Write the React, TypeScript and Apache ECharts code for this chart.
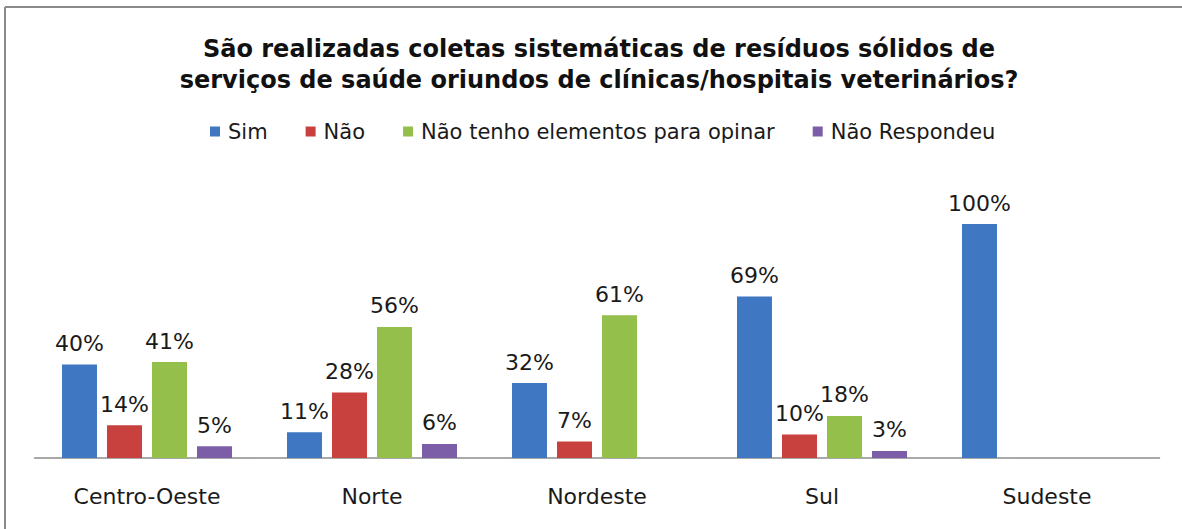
import React, { useEffect, useRef } from "react";
import * as echarts from "echarts";

const categories = ["Centro-Oeste", "Norte", "Nordeste", "Sul", "Sudeste"];
const seriesNames = ["Sim", "Não", "Não tenho elementos para opinar", "Não Respondeu"];
const simValues = [40, 11, 32, 69, 100];
const naoValues = [14, 28, 7, 10, null];
const semElementosValues = [41, 56, 61, 18, null];
const naoRespondeuValues = [5, 6, null, 3, null];
const colors = ["#4077C2", "#C9413F", "#93BF4A", "#7B5EA7"];
const titleLines = [
  "São realizadas coletas sistemáticas de resíduos sólidos de",
  "serviços de saúde oriundos de clínicas/hospitais veterinários?",
];

const FONT = "DejaVu Sans";

export default function App() {
  const ref = useRef<HTMLDivElement>(null);
  useEffect(() => {
    document.body.style.margin = "0";
    if (!ref.current) return;
    const chart = echarts.init(ref.current, null, { renderer: "svg" });
    const allValues = [simValues, naoValues, semElementosValues, naoRespondeuValues];
    chart.setOption({
      animation: false,
      backgroundColor: "#ffffff",
      textStyle: { fontFamily: FONT },
      title: {
        text: titleLines.join("\n"),
        left: 594,
        textAlign: "center",
        top: 28,
        textStyle: {
          fontFamily: FONT,
          fontSize: 24,
          fontWeight: "bold",
          color: "#111111",
          lineHeight: 31,
        },
      },
      legend: {
        left: 205,
        top: 116,
        itemWidth: 10,
        itemHeight: 10,
        itemGap: 38,
        icon: "rect",
        textStyle: {
          fontFamily: FONT,
          fontSize: 21,
          color: "#1a1a1a",
          padding: [0, 0, 0, 3],
        },
        data: seriesNames,
      },
      grid: { left: 34.5, right: 22.5, top: 224, bottom: 71 },
      xAxis: {
        type: "category",
        data: categories,
        axisLine: { lineStyle: { color: "#8c8c8c", width: 1.5 } },
        axisTick: { show: false },
        axisLabel: {
          fontFamily: FONT,
          fontSize: 22,
          color: "#1a1a1a",
          margin: 27,
        },
      },
      yAxis: {
        type: "value",
        min: 0,
        max: 100,
        show: false,
        splitLine: { show: false },
      },
      graphic: [
        {
          type: "line",
          shape: { x1: 5, y1: 7, x2: 1182, y2: 7 },
          style: { stroke: "#8a8a8a", lineWidth: 2 },
          silent: true,
        },
        {
          type: "line",
          shape: { x1: 5, y1: 7, x2: 5, y2: 529 },
          style: { stroke: "#8a8a8a", lineWidth: 2 },
          silent: true,
        },
      ],
      series: seriesNames.map((name, i) => ({
        name,
        type: "bar",
        data: allValues[i],
        barWidth: 35,
        barGap: "28.6%",
        itemStyle: { color: colors[i] },
        label: {
          show: true,
          position: "top",
          distance: 10,
          formatter: "{c}%",
          fontFamily: FONT,
          fontSize: 22,
          color: "#1a1a1a",
        },
      })),
    });
    return () => chart.dispose();
  }, []);
  return <div ref={ref} style={{ width: 1182, height: 529 }} />;
}
